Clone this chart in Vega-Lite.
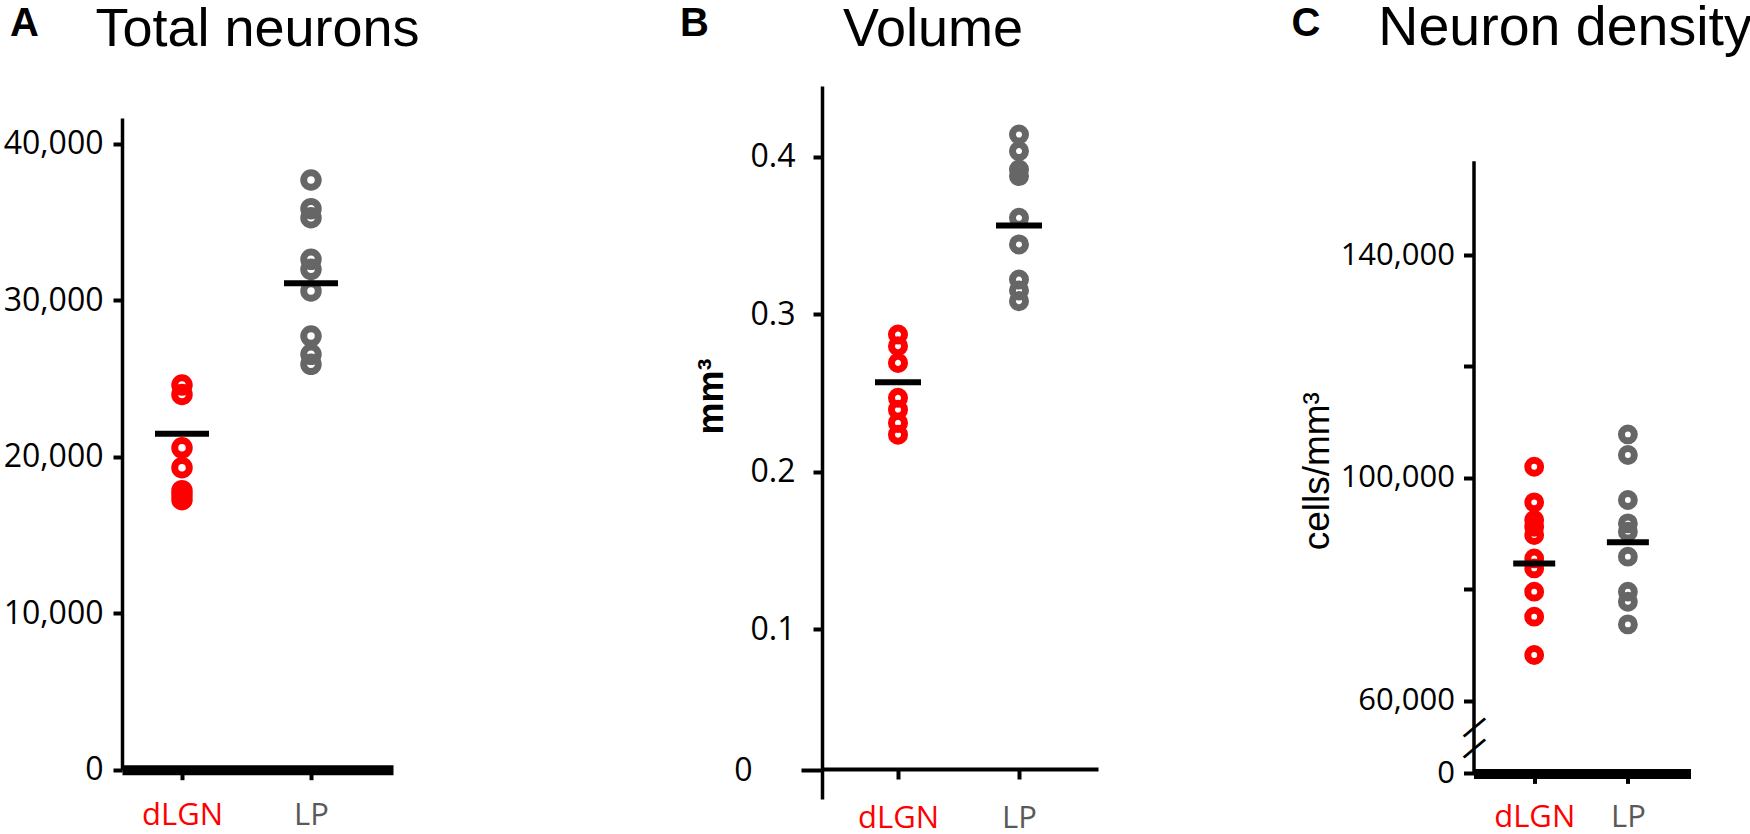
{
  "$schema": "https://vega.github.io/schema/vega-lite/v6.json",
  "padding": {"left": 3, "top": 1, "right": 0, "bottom": 0},
  "background": "white",
  "config": {
    "view": {"stroke": null},
    "axis": {"grid": false, "domainColor": "black", "tickColor": "black", "labelColor": "black", "labelFont": "Open Sans", "titleColor": "black", "labelOverlap": false},
    "title": {"font": "Liberation Sans", "fontSize": 54, "fontWeight": "normal", "color": "black"}
  },
  "datasets": {
    "totals": [
      {"group": "dLGN", "value": 24580}, {"group": "dLGN", "value": 23980}, {"group": "dLGN", "value": 20570}, {"group": "dLGN", "value": 19300}, {"group": "dLGN", "value": 17830}, {"group": "dLGN", "value": 17550}, {"group": "dLGN", "value": 17250},
      {"group": "LP", "value": 37680}, {"group": "LP", "value": 35850}, {"group": "LP", "value": 35270}, {"group": "LP", "value": 32610}, {"group": "LP", "value": 31970}, {"group": "LP", "value": 30590}, {"group": "LP", "value": 27710}, {"group": "LP", "value": 26540}, {"group": "LP", "value": 25900}
    ],
    "totalsMean": [{"group": "dLGN", "value": 21470}, {"group": "LP", "value": 31080}],
    "volume": [
      {"group": "dLGN", "value": 0.287}, {"group": "dLGN", "value": 0.2796}, {"group": "dLGN", "value": 0.269}, {"group": "dLGN", "value": 0.2468}, {"group": "dLGN", "value": 0.2393}, {"group": "dLGN", "value": 0.2309}, {"group": "dLGN", "value": 0.2234},
      {"group": "LP", "value": 0.414}, {"group": "LP", "value": 0.4035}, {"group": "LP", "value": 0.3918}, {"group": "LP", "value": 0.3876}, {"group": "LP", "value": 0.3611}, {"group": "LP", "value": 0.3442}, {"group": "LP", "value": 0.3219}, {"group": "LP", "value": 0.315}, {"group": "LP", "value": 0.3082}
    ],
    "volumeMean": [{"group": "dLGN", "value": 0.2567}, {"group": "LP", "value": 0.3562}],
    "density": [
      {"group": "dLGN", "value": 102000}, {"group": "dLGN", "value": 95600}, {"group": "dLGN", "value": 92440}, {"group": "dLGN", "value": 91230}, {"group": "dLGN", "value": 89740}, {"group": "dLGN", "value": 85540}, {"group": "dLGN", "value": 83750}, {"group": "dLGN", "value": 79570}, {"group": "dLGN", "value": 75080}, {"group": "dLGN", "value": 68200},
      {"group": "LP", "value": 107800}, {"group": "LP", "value": 104100}, {"group": "LP", "value": 96030}, {"group": "LP", "value": 91830}, {"group": "LP", "value": 90340}, {"group": "LP", "value": 85850}, {"group": "LP", "value": 79570}, {"group": "LP", "value": 77770}, {"group": "LP", "value": 73700}
    ],
    "densityMean": [{"group": "dLGN", "value": 84650}, {"group": "LP", "value": 88420}]
  },
  "spacing": 259,
  "hconcat": [
    {
      "width": 271,
      "height": 683.7,
      "title": {"text": "Total neurons", "anchor": "middle", "frame": "group", "offset": -53.5},
      "resolve": {"axis": {"y": "independent"}},
      "layer": [
        {
          "data": {"name": "totals"},
          "mark": {"type": "point", "shape": "circle", "filled": false, "strokeWidth": 7, "size": 210, "opacity": 1},
          "encoding": {
            "x": {"field": "group", "type": "nominal", "scale": {"type": "point", "domain": ["dLGN", "LP"], "padding": 0.5504, "align": 0.4225},
              "axis": {"title": null, "domainWidth": 10, "tickSize": 10, "tickWidth": 4, "labelPadding": 21, "labelFontSize": 31, "labelAngle": 0,
                "labelColor": {"condition": {"test": "datum.value === 'dLGN'", "value": "#ff0000"}, "value": "#595959"}}},
            "y": {"field": "value", "type": "quantitative", "scale": {"domain": [0, 43687], "nice": false, "zero": false},
              "axis": {"title": null, "values": [0, 10000, 20000, 30000, 40000], "labelExpr": "format(datum.value, ',')", "domainWidth": 3.5, "domainDash": [651.7, 1000], "tickSize": 9, "tickWidth": 4, "labelPadding": 10, "labelFontSize": 32}},
            "color": {"field": "group", "type": "nominal", "scale": {"domain": ["dLGN", "LP"], "range": ["#ff0000", "#666666"]}, "legend": null}
          }
        },
        {
          "data": {"name": "totalsMean"},
          "mark": {"type": "tick", "orient": "horizontal", "size": 54, "thickness": 6, "color": "black", "opacity": 1},
          "encoding": {
            "x": {"field": "group", "type": "nominal"},
            "y": {"field": "value", "type": "quantitative",
              "axis": {"orient": "left", "title": "A", "labels": false, "ticks": false, "domain": false, "titleAngle": 0, "titleX": -98, "titleY": -62.8, "titleAlign": "center", "titleBaseline": "middle", "titleFont": "Liberation Sans", "titleFontWeight": "bold", "titleFontSize": 40}}
          }
        }
      ]
    },
    {
      "spacing": 192.5,
      "hconcat": [
        {
          "width": 276,
          "height": 713,
          "title": {"text": "Volume", "anchor": "middle", "frame": "group", "offset": -53.5, "dx": -27},
          "resolve": {"axis": {"y": "independent"}},
          "layer": [
            {
              "data": {"name": "volume"},
              "mark": {"type": "point", "shape": "circle", "filled": false, "strokeWidth": 7, "size": 170, "opacity": 1},
              "encoding": {
                "x": {"field": "group", "type": "nominal", "scale": {"type": "point", "domain": ["dLGN", "LP"], "padding": 0.6405, "align": 0.4903},
                  "axis": {"title": null, "offset": -30, "domainWidth": 4, "tickSize": 10, "tickWidth": 4, "labelPadding": 24, "labelFontSize": 31, "labelAngle": 0,
                    "labelColor": {"condition": {"test": "datum.value === 'dLGN'", "value": "#ff0000"}, "value": "#595959"}}},
                "y": {"field": "value", "type": "quantitative", "scale": {"domain": [-0.0079, 0.4448], "nice": false, "zero": false},
                  "axis": {"title": "mm³", "values": [0.0102, 0.1, 0.2, 0.3, 0.4], "labelExpr": "datum.value < 0.05 ? '0' : format(datum.value, '.1f')",
                    "domainWidth": 3.5, "tickWidth": 4,
                    "tickSize": {"condition": {"test": "datum.value < 0.05", "value": 21}, "value": 9},
                    "labelPadding": {"condition": {"test": "datum.value < 0.05", "value": 49}, "value": 18},
                    "labelFontSize": 32,
                    "titleFont": "Liberation Sans", "titleFontWeight": "bold", "titleFontSize": 36, "titleX": -100, "titleY": 310, "titleAlign": "center", "titleBaseline": "alphabetic", "titleAngle": -90}},
                "color": {"field": "group", "type": "nominal", "scale": {"domain": ["dLGN", "LP"], "range": ["#ff0000", "#666666"]}, "legend": null}
              }
            },
            {
              "data": {"name": "volumeMean"},
              "mark": {"type": "tick", "orient": "horizontal", "size": 46, "thickness": 6, "color": "black", "opacity": 1},
              "encoding": {
                "x": {"field": "group", "type": "nominal"},
                "y": {"field": "value", "type": "quantitative",
                  "axis": {"orient": "left", "title": "B", "labels": false, "ticks": false, "domain": false, "titleAngle": 0, "titleX": -128, "titleY": -62.8, "titleAlign": "center", "titleBaseline": "middle", "titleFont": "Liberation Sans", "titleFontWeight": "bold", "titleFontSize": 40}}
              }
            }
          ]
        },
        {
          "width": 217,
          "height": 687.4,
          "title": {"text": "Neuron density", "anchor": "middle", "frame": "group", "offset": -53.5, "dx": -17, "fontSize": 55.5},
          "resolve": {"axis": {"y": "independent"}},
          "layer": [
            {
              "data": {"name": "density"},
              "mark": {"type": "point", "shape": "circle", "filled": false, "strokeWidth": 7, "size": 165, "opacity": 1},
              "encoding": {
                "x": {"field": "group", "type": "nominal", "scale": {"type": "point", "domain": ["dLGN", "LP"], "padding": 0.6583, "align": 0.4923},
                  "axis": {"title": null, "domainWidth": 10, "tickSize": 10, "tickWidth": 4, "labelPadding": 19, "labelFontSize": 31, "labelAngle": 0,
                    "labelColor": {"condition": {"test": "datum.value === 'dLGN'", "value": "#ff0000"}, "value": "#595959"}}},
                "y": {"field": "value", "type": "quantitative", "scale": {"domain": [46950, 170340], "nice": false, "zero": false},
                  "axis": {"title": "cells/mm³", "values": [46950, 60000, 80000, 100000, 120000, 140000],
                    "labelExpr": "datum.value < 50000 ? '0' : ((datum.value == 80000 || datum.value == 120000) ? '' : format(datum.value, ','))",
                    "domainWidth": 3.5, "domainDash": [612.7, 1000], "tickSize": 10, "tickWidth": 4, "labelPadding": 9, "labelFontSize": 31,
                    "titleFont": "Liberation Sans", "titleFontWeight": "normal", "titleFontSize": 37, "titleX": -145, "titleY": 384.7, "titleAlign": "center", "titleBaseline": "alphabetic", "titleAngle": -90}},
                "color": {"field": "group", "type": "nominal", "scale": {"domain": ["dLGN", "LP"], "range": ["#ff0000", "#666666"]}, "legend": null}
              }
            },
            {
              "data": {"name": "densityMean"},
              "mark": {"type": "tick", "orient": "horizontal", "size": 42, "thickness": 6, "color": "black", "opacity": 1},
              "encoding": {
                "x": {"field": "group", "type": "nominal"},
                "y": {"field": "value", "type": "quantitative",
                  "axis": {"orient": "left", "title": "C", "values": [55330, 51560], "labelExpr": "'—'", "ticks": false, "tickSize": 0, "domain": false,
                    "labelAlign": "center", "labelBaseline": "middle", "labelAngle": -40, "labelPadding": 0, "labelFont": "Liberation Sans", "labelFontWeight": "bold", "labelFontSize": 28,
                    "titleAngle": 0, "titleX": -168, "titleY": -62.8, "titleAlign": "center", "titleBaseline": "middle", "titleFont": "Liberation Sans", "titleFontWeight": "bold", "titleFontSize": 40}}
              }
            }
          ]
        }
      ]
    }
  ]
}
